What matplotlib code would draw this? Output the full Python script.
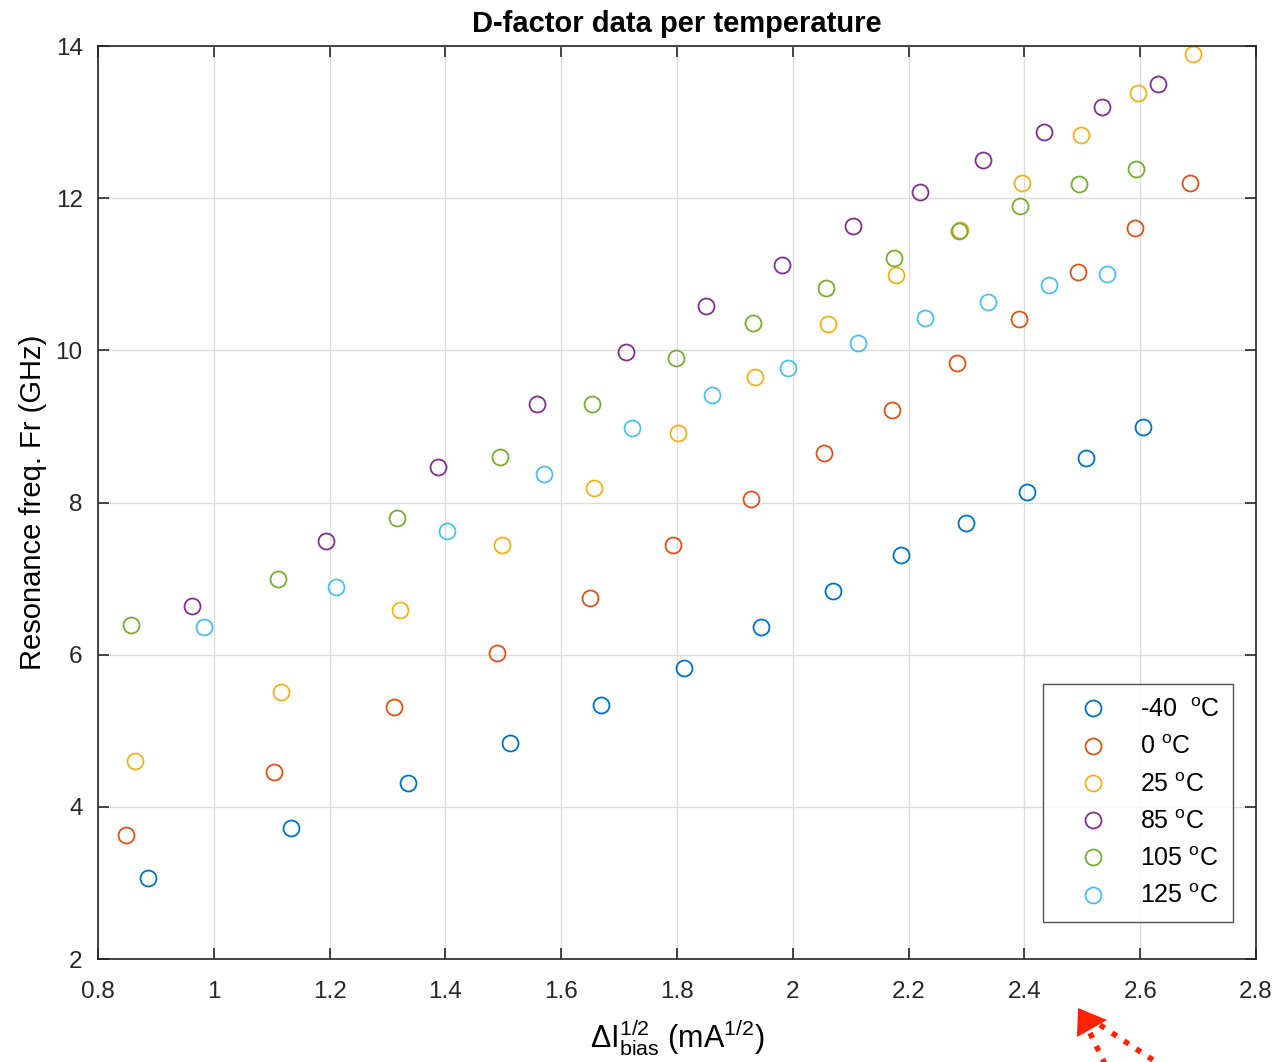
import numpy as np
import matplotlib
matplotlib.use("Agg")
import matplotlib.pyplot as plt
from matplotlib.patches import Polygon
from matplotlib.lines import Line2D

plt.rcParams['font.family'] = ['Liberation Sans', 'DejaVu Sans']
plt.rcParams['mathtext.fontset'] = 'custom'
plt.rcParams['mathtext.rm'] = 'Liberation Sans'
plt.rcParams['mathtext.it'] = 'Liberation Sans:italic'
plt.rcParams['mathtext.bf'] = 'Liberation Sans:bold'

# sqrt(delta I_bias) and resonance frequency, per temperature
x_m40 = [0.886, 1.133, 1.335, 1.512, 1.669, 1.812, 1.945, 2.069, 2.187, 2.299, 2.404, 2.506, 2.605]
y_m40 = [3.06, 3.72, 4.31, 4.84, 5.34, 5.82, 6.36, 6.84, 7.31, 7.73, 8.14, 8.59, 8.99]

x_0 = [0.848, 1.104, 1.311, 1.489, 1.650, 1.793, 1.928, 2.054, 2.171, 2.284, 2.391, 2.493, 2.591, 2.686]
y_0 = [3.63, 4.46, 5.31, 6.02, 6.74, 7.44, 8.05, 8.65, 9.22, 9.83, 10.41, 11.03, 11.61, 12.20]

x_25 = [0.864, 1.116, 1.322, 1.498, 1.657, 1.802, 1.935, 2.061, 2.178, 2.289, 2.396, 2.498, 2.596, 2.691]
y_25 = [4.60, 5.51, 6.59, 7.44, 8.19, 8.91, 9.65, 10.35, 10.99, 11.58, 12.20, 12.83, 13.38, 13.90]

x_85 = [0.962, 1.194, 1.387, 1.558, 1.712, 1.850, 1.981, 2.104, 2.220, 2.329, 2.434, 2.534, 2.631]
y_85 = [6.64, 7.49, 8.47, 9.29, 9.98, 10.58, 11.12, 11.63, 12.08, 12.50, 12.87, 13.20, 13.50]

x_105 = [0.857, 1.111, 1.316, 1.494, 1.653, 1.798, 1.931, 2.057, 2.175, 2.287, 2.392, 2.494, 2.593]
y_105 = [6.39, 6.99, 7.80, 8.60, 9.29, 9.90, 10.36, 10.82, 11.21, 11.57, 11.90, 12.19, 12.38]

x_125 = [0.983, 1.211, 1.403, 1.570, 1.722, 1.860, 1.992, 2.113, 2.228, 2.337, 2.442, 2.543]
y_125 = [6.36, 6.89, 7.63, 8.37, 8.98, 9.41, 9.77, 10.10, 10.43, 10.64, 10.86, 11.00]

labels = ['-40  $^{\\rm o}$C', '0 $^{\\rm o}$C', '25 $^{\\rm o}$C',
          '85 $^{\\rm o}$C', '105 $^{\\rm o}$C', '125 $^{\\rm o}$C']
colors = ['#0072BD', '#D95319', '#EDB120', '#7E2F8E', '#77AC30', '#4DBEEE']
xs = [x_m40, x_0, x_25, x_85, x_105, x_125]
ys = [y_m40, y_0, y_25, y_85, y_105, y_125]

W, H = 1279, 1062
fig = plt.figure(figsize=(W / 100, H / 100), dpi=100)
ax = fig.add_axes([98 / W, 103 / H, (1256 - 98) / W, (959 - 46) / H])

for x, y, c, lab in zip(xs, ys, colors, labels):
    ax.plot(x, y, 'o', mfc='none', mec=c, ms=11.5, mew=1.3, ls='none', label=lab)

ax.set_xlim(0.8, 2.8)
ax.set_ylim(2, 14)
ax.set_xticks(np.arange(0.8, 2.81, 0.2))
ax.set_xticklabels(['0.8', '1', '1.2', '1.4', '1.6', '1.8', '2', '2.2', '2.4', '2.6', '2.8'])
ax.set_yticks(np.arange(2, 15, 2))
ax.grid(True, color='#dcdcdc', lw=1)
ax.set_axisbelow(True)
ax.tick_params(direction='in', top=True, right=True, length=8, width=1.2,
               labelsize=17.5, colors='#262626')
ax.tick_params(axis='x', pad=16)
ax.tick_params(axis='y', pad=11)
for s in ax.spines.values():
    s.set_color('#262626')
    s.set_linewidth(1.2)

ax.set_title('D-factor data per temperature', fontsize=21, fontweight='bold', pad=10)
ax.set_ylabel('Resonance freq. Fr (GHz)', fontsize=21, labelpad=6)
ax.set_xlabel('$\\Delta$I$^{1/2}_{\\rm bias}$ (mA$^{1/2}$)', fontsize=22, labelpad=10)

leg = ax.legend(loc='lower right', fontsize=18,
                frameon=True, fancybox=False, edgecolor='#262626', borderpad=0.55,
                handletextpad=0.4, handlelength=2.9, labelspacing=0.53,
                borderaxespad=0)
leg.get_frame().set_linewidth(1.0)
leg.set_bbox_to_anchor((1233 / W, (H - 922) / H), transform=fig.transFigure)

# red dotted arrow below the axes
def fp(px, py):
    return (px / W, (H - py) / H)

head = Polygon([fp(1078, 1008), fp(1107, 1020), fp(1077, 1037)], closed=True,
               transform=fig.transFigure, color='#ff2200', lw=0)
fig.patches.append(head)
for (a, b) in [((1090, 1033), (1106, 1066)), ((1100, 1025), (1162, 1066))]:
    fig.lines.append(Line2D([fp(*a)[0], fp(*b)[0]], [fp(*a)[1], fp(*b)[1]],
                            transform=fig.transFigure, color='#ff2200', lw=4,
                            dashes=(1, 1.6)))

fig.savefig('out.png', dpi=100)
